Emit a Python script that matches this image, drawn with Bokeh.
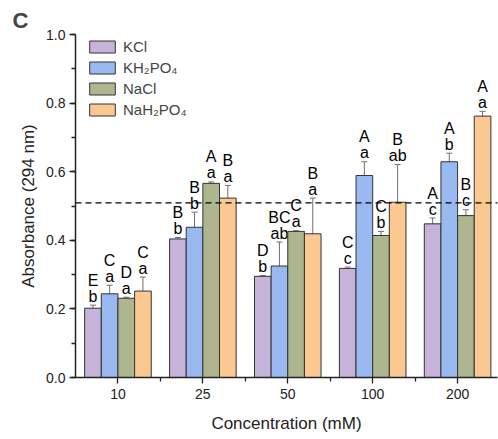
from bokeh.plotting import figure
from bokeh.models import (ColumnDataSource, Whisker, Span, Legend, LegendItem, Title,
                          FixedTicker, SingleIntervalTicker, Range1d, TeeHead, NumeralTickFormatter)
from bokeh.core.properties import value
from bokeh.embed import file_html
from bokeh.resources import INLINE

# ---- data ----
concentrations = ["10", "25", "50", "100", "200"]
salts = ["KCl", "KH₂PO₄", "NaCl", "NaH₂PO₄"]
colors = ["#C5B3D9", "#9BB9F1", "#AEB68F", "#FCC892"]

kcl = [0.202, 0.404, 0.295, 0.318, 0.448]
kcl_err = [0.009, 0.004, 0.002, 0.004, 0.017]
kh2po4 = [0.244, 0.438, 0.325, 0.589, 0.629]
kh2po4_err = [0.025, 0.044, 0.070, 0.040, 0.025]
nacl = [0.231, 0.566, 0.426, 0.414, 0.472]
nacl_err = [0.003, 0.004, 0.002, 0.012, 0.017]
nah2po4 = [0.252, 0.523, 0.419, 0.511, 0.762]
nah2po4_err = [0.041, 0.037, 0.104, 0.110, 0.014]

upper_letters = [["E", "B", "D", "C", "A"],
                 ["C", "B", "BC", "A", "A"],
                 ["D", "A", "C", "C", "B"],
                 ["C", "B", "B", "B", "A"]]
lower_letters = [["b", "b", "b", "c", "c"],
                 ["a", "b", "ab", "a", "b"],
                 ["a", "a", "a", "b", "c"],
                 ["a", "a", "a", "ab", "a"]]

threshold = 0.509

series = [kcl, kh2po4, nacl, nah2po4]
errors = [kcl_err, kh2po4_err, nacl_err, nah2po4_err]

FONT = "Liberation Sans"

p = figure(width=498, height=439, output_backend="svg", toolbar_location=None,
           x_range=Range1d(-0.5, 4.47), y_range=Range1d(0, 1.0),
           min_border_left=75, min_border_right=1, min_border_top=34, min_border_bottom=62)
p.outline_line_color = None
p.xgrid.visible = False
p.ygrid.visible = False
p.background_fill_color = "white"

bar_w = 0.196
offsets = [-1.5 * bar_w, -0.5 * bar_w, 0.5 * bar_w, 1.5 * bar_w]
px_per_unit = 343.0  # frame height in px for 1.0 absorbance

items = []
for k in range(4):
    xs = [i + offsets[k] for i in range(len(concentrations))]
    tops = series[k]
    errs = errors[k]
    up = [t + e for t, e in zip(tops, errs)]
    lo = [t - e for t, e in zip(tops, errs)]
    src = ColumnDataSource(dict(x=xs, top=tops, upper=up, lower=lo,
                                ul=upper_letters[k], ll=lower_letters[k],
                                yl=[u + 9 / px_per_unit for u in up],
                                yu=[u + 25 / px_per_unit for u in up]))
    r = p.vbar(x="x", top="top", width=bar_w, source=src, fill_color=colors[k],
               line_color="#333333", line_width=1)
    items.append(LegendItem(label=salts[k], renderers=[r]))
    w = Whisker(base="x", upper="upper", lower="lower", source=src,
                line_color="#707070", line_width=1,
                upper_head=TeeHead(size=6, line_color="#707070", line_width=1),
                lower_head=TeeHead(size=6, line_color="#707070", line_width=1))
    p.add_layout(w)
    p.text(x="x", y="yl", text="ll", source=src, text_align="center", text_baseline="middle",
           text_font=value(FONT), text_font_size="16px", text_color="black")
    p.text(x="x", y="yu", text="ul", source=src, text_align="center", text_baseline="middle",
           text_font=value(FONT), text_font_size="16px", text_color="black")

p.add_layout(Span(location=threshold, dimension="width", line_color="black",
                  line_dash="6 4", line_width=1.3))

legend = Legend(items=items, location=(11, 259),
                glyph_width=32, glyph_height=15, label_height=15, spacing=4,
                padding=0, margin=0, label_standoff=5,
                label_text_font=FONT, label_text_font_size="15px",
                background_fill_alpha=0, border_line_color=None)
p.add_layout(legend)

# axes
p.xaxis.ticker = FixedTicker(ticks=list(range(len(concentrations))),
                             minor_ticks=[0.5, 1.5, 2.5, 3.5])
p.xaxis.major_label_overrides = {i: c for i, c in enumerate(concentrations)}
p.yaxis.ticker = SingleIntervalTicker(interval=0.2, num_minor_ticks=2)
p.yaxis.formatter = NumeralTickFormatter(format="0.0")
for ax in (p.xaxis[0], p.yaxis[0]):
    ax.axis_line_width = 1.5
    ax.axis_line_color = "#222222"
    ax.major_tick_line_color = "#222222"
    ax.minor_tick_line_color = "#222222"
    ax.major_tick_line_width = 1.3
    ax.minor_tick_line_width = 1.3
    ax.major_tick_out = 6
    ax.major_tick_in = 0
    ax.minor_tick_out = 4
    ax.minor_tick_in = 0
    ax.major_label_text_font = FONT
    ax.major_label_text_font_size = "14px"
    ax.major_label_text_color = "#222222"
    ax.axis_label_text_font = FONT
    ax.axis_label_text_font_size = "17px"
    ax.axis_label_text_font_style = "normal"
    ax.axis_label_text_color = "#222222"
p.xaxis.axis_label = "Concentration (mM)"
p.yaxis.axis_label = "Absorbance (294 nm)"
p.xaxis.major_label_standoff = 5
p.yaxis.major_label_standoff = 4
p.xaxis.axis_label_standoff = 12
p.yaxis.axis_label_standoff = 5

p.add_layout(Title(text="C", text_font=FONT, text_font_size="22px", text_font_style="bold",
                   align="left", offset=-63, standoff=4), "above")

open("out.html", "w").write(file_html(p, INLINE))
